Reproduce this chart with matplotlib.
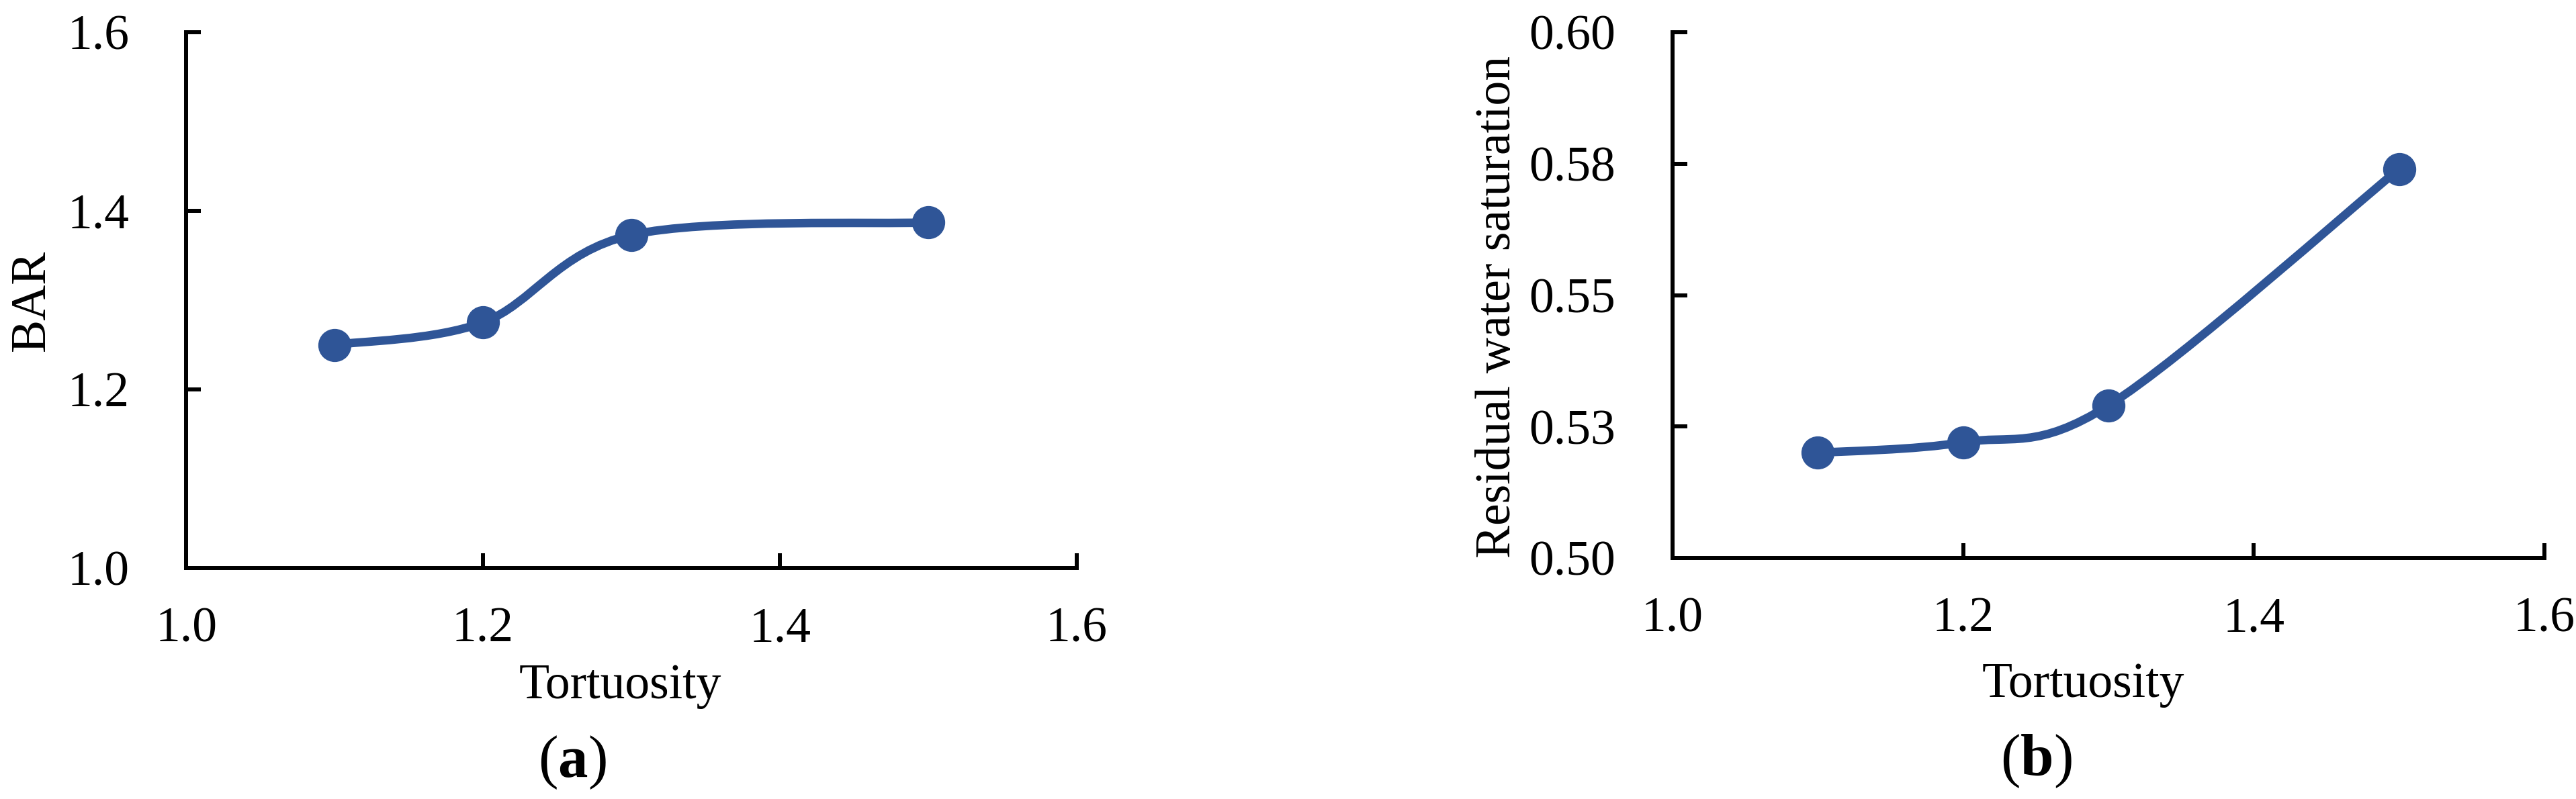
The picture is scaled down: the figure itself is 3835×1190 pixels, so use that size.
import matplotlib
matplotlib.use('agg')
import matplotlib.pyplot as plt
from matplotlib.path import Path
from matplotlib.patches import PathPatch
import numpy as np

# data
tortuosity = [1.1, 1.2, 1.3, 1.5]
bar_vals = [1.250, 1.275, 1.373, 1.387]
swr_vals = [0.520, 0.522, 0.529, 0.574]

x_ticks = [1.0, 1.2, 1.4, 1.6]
x_ticklabels = ['1.0', '1.2', '1.4', '1.6']
bar_ticks = [1.0, 1.2, 1.4, 1.6]
bar_ticklabels = ['1.0', '1.2', '1.4', '1.6']
swr_ticks = [0.50, 0.525, 0.55, 0.575, 0.60]
swr_ticklabels = ['0.50', '0.53', '0.55', '0.58', '0.60']

BLUE = '#2F5597'
W, H = 3835, 1190

plt.rcParams['font.family'] = 'Liberation Serif'
plt.rcParams['mathtext.fontset'] = 'custom'
plt.rcParams['mathtext.rm'] = 'Liberation Serif'
plt.rcParams['mathtext.bf'] = 'Liberation Serif:bold'


def smooth_path(xs, ys):
    # excel style smoothed line, catmull-rom turned into bezier segments
    p = np.column_stack([xs, ys])
    p = np.vstack([p[0], p, p[-1]])
    verts = [p[1]]
    codes = [Path.MOVETO]
    for i in range(1, len(p) - 2):
        c1 = p[i] + (p[i + 1] - p[i - 1]) / 6.0
        c2 = p[i + 1] - (p[i + 2] - p[i]) / 6.0
        verts += [c1, c2, p[i + 1]]
        codes += [Path.CURVE4] * 3
    return Path(verts, codes)


def style(ax, yticks, ylabels, ylim):
    ax.set_xlim(1.0, 1.6)
    ax.set_ylim(ylim)
    ax.set_xticks(x_ticks)
    ax.set_xticklabels(x_ticklabels)
    ax.set_yticks(yticks)
    ax.set_yticklabels(ylabels)
    for s in ['top', 'right']:
        ax.spines[s].set_visible(False)
    for s in ['left', 'bottom']:
        ax.spines[s].set_linewidth(4.3)
    ax.tick_params(direction='in', length=16, width=4.3, labelsize=53)
    ax.tick_params(axis='y', pad=61)
    ax.tick_params(axis='x', pad=42)


def draw(ax, xs, ys):
    ax.add_patch(PathPatch(smooth_path(xs, ys), fill=False, ec=BLUE, lw=9.1,
                           capstyle='round', joinstyle='round', zorder=2, clip_on=False))
    ax.plot(xs, ys, 'o', ms=34.5, color=BLUE, zorder=3, clip_on=False)


def px(x, y):
    return x / W, 1 - y / H


fig = plt.figure(figsize=(W / 100, H / 100), dpi=100)

ax1 = fig.add_axes([277 / W, 1 - 846 / H, (1603 - 277) / W, (846 - 48) / H])
style(ax1, bar_ticks, bar_ticklabels, (1.0, 1.6))
draw(ax1, tortuosity, bar_vals)

ax2 = fig.add_axes([2490 / W, 1 - 831 / H, (3788 - 2490) / W, (831 - 48) / H])
style(ax2, swr_ticks, swr_ticklabels, (0.50, 0.60))
draw(ax2, tortuosity, swr_vals)

fig.text(*px(923, 1040), 'Tortuosity', fontsize=53, ha='center', va='baseline')
fig.text(*px(3101, 1038), 'Tortuosity', fontsize=53, ha='center', va='baseline')
fig.text(*px(48, 447), 'BAR', fontsize=53, rotation=90, ha='center', va='center')
fig.text(*px(2230, 457), 'Residual water saturation', fontsize=53, rotation=90,
         ha='center', va='center')
fig.text(*px(852, 1157), r'($\mathbf{a}$)', fontsize=64, ha='center', va='baseline')
fig.text(*px(3031, 1155), r'($\mathbf{b}$)', fontsize=64, ha='center', va='baseline')

fig.savefig('out.png', dpi=100, facecolor='white')
